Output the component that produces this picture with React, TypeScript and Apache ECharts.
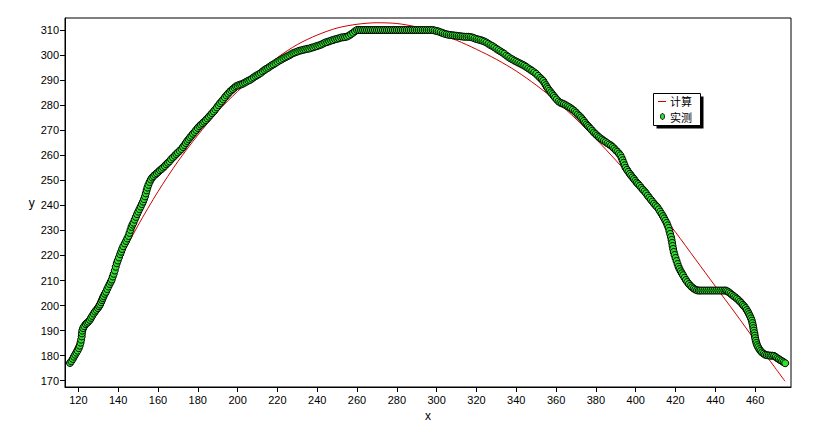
import React, { useEffect, useRef } from "react";
import * as echarts from "echarts";

const seriesNames = ["计算", "实测"];
const xName = "x";
const yName = "y";
const xTicks = [120, 140, 160, 180, 200, 220, 240, 260, 280, 300, 320, 340, 360, 380, 400, 420, 440, 460];
const yTicks = [170, 180, 190, 200, 210, 220, 230, 240, 250, 260, 270, 280, 290, 300, 310];

// 计算 (fitted curve)
const calculated: [number, number][] = [
  [115, 177.5], [120, 186], [130, 202], [140, 217], [150, 232], [160, 245.5], [170, 257.5],
  [180, 268], [190, 277.5], [200, 285.5], [210, 292.5], [220, 299], [230, 304.2], [240, 308],
  [250, 310.8], [260, 312.3], [270, 312.9], [280, 312.6], [290, 311.2], [300, 308.8], [310, 305.9],
  [320, 302.3], [330, 298.3], [340, 293.6], [350, 288], [360, 281.7], [370, 274.5], [380, 266.5],
  [390, 258], [400, 249], [410, 239.5], [420, 229.3], [430, 218.5], [440, 207.7], [450, 197],
  [460, 186], [470, 175.2], [475, 169.8],
];

// 实测 (measured points)
const measured: [number, number][] = [
  [115.8, 177.1], [116.5, 177.8], [117.2, 178.7], [117.8, 179.6], [118.4, 180.4], [119, 181.2], [119.6, 182],
  [120.2, 183], [120.7, 184], [121.1, 185.2], [121.4, 186.4], [121.7, 187.7], [121.8, 188.9], [122, 190],
  [122.4, 191], [123, 191.8], [123.7, 192.6], [124.4, 193.1], [125.1, 193.6], [125.8, 194.3], [126.4, 195.1],
  [127, 195.9], [127.7, 196.8], [128.4, 197.6], [129.1, 198.3], [129.8, 199], [130.4, 199.7], [130.9, 200.4],
  [131.4, 201.3], [131.9, 202.2], [132.3, 203], [132.7, 203.8], [133.3, 204.7], [133.9, 205.5], [134.5, 206.6],
  [135.1, 207.6], [135.7, 208.6], [136.3, 209.5], [136.8, 210.4], [137.3, 211.6], [137.8, 212.7], [138.3, 214],
  [138.8, 215.5], [139.3, 216.9], [139.8, 218], [140.4, 219.2], [141, 220.5], [141.5, 221.5], [142, 222.6],
  [142.6, 223.7], [143.3, 224.8], [144, 225.8], [144.6, 226.8], [145.2, 227.8], [145.7, 229], [146.2, 230.2],
  [146.7, 231.4], [147.2, 232.3], [147.7, 233.1], [148.3, 234.3], [148.9, 235.4], [149.5, 236.5], [150.1, 237.5],
  [150.7, 238.5], [151.3, 239.5], [151.9, 240.5], [152.5, 241.5], [153, 242.5], [153.5, 243.6], [153.9, 244.8],
  [154.3, 246], [154.7, 247.1], [155.2, 248.2], [155.8, 249.3], [156.4, 250.3], [157.1, 251.1], [157.8, 251.7],
  [158.6, 252.3], [159.4, 252.8], [160.2, 253.4], [161, 254], [161.8, 254.5], [162.6, 255.1],
  [163.4, 255.7], [164.2, 256.4], [165, 257], [165.8, 257.6], [166.6, 258.4], [167.5, 259.1], [168.4, 259.8],
  [169.2, 260.5], [170, 261.1], [170.9, 261.8], [171.8, 262.5], [172.6, 263.3], [173.3, 264.1], [174, 264.9],
  [174.7, 265.7], [175.4, 266.4], [176.1, 267.1], [176.8, 267.8], [177.6, 268.6], [178.4, 269.3], [179.2, 270.1],
  [180, 270.9], [180.8, 271.6], [181.6, 272.2], [182.4, 272.8], [183.2, 273.4], [184, 274], [184.8, 274.7],
  [185.6, 275.4], [186.4, 276.1], [187.2, 276.8], [188, 277.5], [188.8, 278.3], [189.6, 279.1], [190.4, 280],
  [191.2, 280.8], [192, 281.5], [192.8, 282.3], [193.6, 283.1], [194.4, 283.9], [195.2, 284.6], [196, 285.3],
  [196.8, 285.9], [197.6, 286.4], [198.4, 287], [199.2, 287.5], [200, 287.8], [200.9, 288.1], [201.8, 288.3],
  [202.7, 288.6], [203.6, 289], [204.5, 289.4], [205.4, 289.8], [206.3, 290.1], [207.2, 290.6], [208.1, 291.1],
  [209, 291.6], [209.9, 292], [210.8, 292.4], [211.7, 292.9], [212.6, 293.5], [213.5, 294], [214.4, 294.5],
  [215.3, 294.9], [216.2, 295.4], [217.1, 295.9], [218, 296.3], [219, 296.8], [220, 297.3], [221, 297.8],
  [222, 298.2], [223, 298.7], [224, 299.1], [225, 299.5], [226, 299.9], [227, 300.4], [228, 300.8], [229, 301.1],
  [230, 301.4], [231, 301.7], [232, 301.9], [233, 302.1], [234, 302.3], [235, 302.5], [236, 302.6], [237, 302.9],
  [238, 303.1], [239, 303.4], [240, 303.6], [241, 303.9], [242, 304.2], [243, 304.6], [244, 305], [245, 305.2],
  [246, 305.5], [247, 305.8], [248, 306], [249, 306.3], [250, 306.5], [251, 306.7], [252, 307], [253, 307.1],
  [254, 307.2], [255, 307.4], [256, 307.8], [257, 308.3], [258, 308.9], [259, 309.5], [260, 310],
  [261, 310], [262, 310], [263, 310], [264, 310], [265, 310], [266, 310], [267, 310], [268, 310], [269, 310],
  [270, 310], [271, 310], [272, 310], [273, 310], [274, 310], [275, 310], [276, 310], [277, 310], [278, 310],
  [279, 310], [280, 310], [281, 310], [282, 310], [283, 310], [284, 310], [285, 310], [286, 310], [287, 310],
  [288, 310], [289, 310], [290, 310], [291, 310], [292, 310], [293, 310], [294, 310], [295, 310], [296, 310],
  [297, 310], [298, 310],
  [299, 309.8], [300, 309.6], [301, 309.4], [302, 309.1], [303, 308.8], [304, 308.5], [305, 308.3], [306, 308.1],
  [307, 308], [308, 307.9], [309, 307.8], [310, 307.7], [311, 307.6], [312, 307.5], [313, 307.4], [314, 307.3],
  [315, 307.3], [316, 307.3], [317, 307.2], [318, 307], [319, 306.7], [320, 306.4], [321, 306.2], [322, 306],
  [323, 305.7], [324, 305.4], [325, 305], [326, 304.5], [327, 304], [328, 303.6], [329, 303.1], [330, 302.5],
  [331, 302], [332, 301.5], [333, 301], [334, 300.5], [335, 299.8], [336, 299.3], [337, 298.7], [338, 298.3],
  [339, 297.8], [340, 297.4], [341, 297], [342, 296.6], [343, 296.2], [344, 295.8], [345, 295.3], [346, 294.7],
  [347, 294.2], [348, 293.7], [349, 293.1], [350, 292.5], [351, 291.7], [352, 290.9],
  [352.8, 290.3], [353.5, 289.7], [354.2, 288.8], [354.8, 288], [355.4, 287.2], [356, 286.5], [356.7, 285.8],
  [357.4, 285.1], [358.1, 284.4], [358.8, 283.7], [359.5, 283], [360.3, 282.3], [361.2, 281.5], [362.1, 281],
  [363, 280.7], [363.9, 280.4], [364.8, 280], [365.7, 279.6], [366.6, 279.2], [367.5, 278.7], [368.4, 278.2],
  [369.3, 277.6], [370.1, 277], [370.9, 276.3], [371.7, 275.7], [372.5, 275.1], [373.2, 274.4], [373.9, 273.7],
  [374.6, 273], [375.3, 272.3], [376, 271.7], [376.7, 271.1], [377.4, 270.5], [378.2, 269.8], [379, 269.1],
  [379.8, 268.5], [380.6, 267.9], [381.4, 267.3], [382.2, 266.8], [383.1, 266.3], [384, 265.8], [384.9, 265.3],
  [385.8, 264.8], [386.7, 264.3], [387.6, 263.9], [388.4, 263.3], [389.2, 262.7], [390, 262], [390.8, 261.4],
  [391.6, 260.7], [392.3, 260], [392.9, 259], [393.4, 258], [393.9, 257], [394.4, 256], [394.9, 255], [395.6, 254.2],
  [396.3, 253.4], [397, 252.6], [397.7, 251.9], [398.4, 251.2], [399.1, 250.5], [399.8, 249.8], [400.5, 249.1],
  [401.2, 248.5], [402, 247.8], [402.8, 247], [403.6, 246.3], [404.4, 245.6], [405.2, 244.8], [406, 243.9],
  [406.8, 243.1], [407.6, 242.3], [408.4, 241.5], [409.2, 240.7], [410, 240], [410.8, 239.3], [411.6, 238.4],
  [412.3, 237.5], [413, 236.6], [413.7, 235.7], [414.3, 234.8], [414.9, 233.9], [415.5, 233], [416, 232],
  [416.5, 231], [416.9, 229.8], [417.3, 228.6], [417.7, 227.4], [418, 226.2], [418.3, 225], [418.5, 223.8],
  [418.8, 222.6], [419.1, 221.4], [419.5, 220.2], [420, 219], [420.5, 217.8], [421, 216.6], [421.5, 215.5],
  [422, 214.6], [422.6, 213.7], [423.2, 212.9], [423.8, 212.1], [424.5, 211.1], [425.2, 210.2], [425.9, 209.4],
  [426.7, 208.6], [427.5, 207.9], [428.3, 207.3], [429.1, 206.8], [429.9, 206.4], [430.8, 206.1], [431.7, 206],
  [432.5, 206], [433.5, 206], [434.5, 206], [435.5, 206], [436.5, 206], [437.5, 206], [438.5, 206], [439.5, 206],
  [440.5, 206], [441.5, 206], [442.5, 206], [443.5, 206], [444.5, 206], [445.3, 206],
  [446, 205.7], [446.8, 205.3], [447.6, 204.8], [448.4, 204.3], [449.2, 203.8], [450, 203.3], [450.8, 202.8],
  [451.6, 202.2], [452.4, 201.6], [453.1, 201], [453.8, 200.3], [454.5, 199.7], [455.2, 199], [455.8, 198.2],
  [456.4, 197.4], [456.9, 196.6], [457.4, 195.8], [457.9, 194.9], [458.3, 194], [458.6, 193], [458.9, 192],
  [459.1, 191], [459.3, 190], [459.6, 189], [459.8, 188], [460, 187], [460.3, 186], [460.6, 185.1], [461, 184.2],
  [461.5, 183.4], [462.1, 182.6], [462.7, 181.9], [463.4, 181.3], [464.2, 180.8], [465, 180.4], [465.9, 180.2],
  [466.8, 180.1], [467.7, 180], [468.6, 180], [469.5, 179.9], [470.3, 179.5], [471.1, 179], [471.9, 178.6],
  [472.7, 178.2], [473.5, 177.8], [474.3, 177.4], [475.1, 177],
];

const FONT = "Arial, 'Liberation Sans', sans-serif";
const CJK = "'Noto Sans CJK SC', sans-serif";
const RED = "#cc0000";
const GREEN = "#2fe02f";

export default function App() {
  const ref = useRef<HTMLDivElement>(null);
  useEffect(() => {
    const chart = echarts.init(ref.current!, null, { renderer: "svg" });
    chart.setOption({
      animation: false,
      backgroundColor: "#fff",
      grid: {
        left: 65,
        right: 23,
        top: 18,
        bottom: 52,
        show: true,
        borderColor: "#000",
        borderWidth: 1,
        backgroundColor: "transparent",
      },
      xAxis: {
        type: "value",
        min: 113.3,
        max: 478,
        name: xName,
        nameLocation: "middle",
        nameGap: 20,
        nameTextStyle: { color: "#000", fontSize: 12, fontFamily: FONT },
        axisLine: { show: true, lineStyle: { color: "#000", width: 1 } },
        axisTick: { show: true, length: 5, lineStyle: { color: "#000" }, customValues: xTicks },
        axisLabel: { color: "#000", fontSize: 11, fontFamily: FONT, margin: 7, customValues: xTicks },
        splitLine: { show: false },
      },
      yAxis: {
        type: "value",
        min: 167.5,
        max: 314.8,
        name: yName,
        nameLocation: "middle",
        nameRotate: 0,
        nameGap: 29,
        nameTextStyle: { color: "#000", fontSize: 12, fontFamily: FONT },
        axisLine: { show: true, lineStyle: { color: "#000", width: 1 } },
        axisTick: { show: true, length: 5, lineStyle: { color: "#000" }, customValues: yTicks },
        axisLabel: { color: "#000", fontSize: 11, fontFamily: FONT, margin: 6, customValues: yTicks },
        splitLine: { show: false },
      },
      series: [
        {
          name: seriesNames[0],
          type: "line",
          data: calculated,
          smooth: 0.3,
          showSymbol: false,
          symbol: "none",
          lineStyle: { color: RED, width: 1 },
          z: 1,
        },
        {
          name: seriesNames[1],
          type: "scatter",
          data: measured,
          symbol: "circle",
          symbolSize: 7,
          itemStyle: { color: GREEN, borderColor: "#000", borderWidth: 1, opacity: 1 },
          z: 2,
        },
      ],
      graphic: [
        { type: "rect", shape: { x: 656.5, y: 96.5, width: 47, height: 32 }, style: { fill: "#000" }, z: 100 },
        {
          type: "rect",
          shape: { x: 653.5, y: 93.5, width: 47, height: 32 },
          style: { fill: "#fff", stroke: "#000", lineWidth: 1 },
          z: 101,
        },
        {
          type: "line",
          shape: { x1: 658, y1: 101.5, x2: 666, y2: 101.5 },
          style: { stroke: RED, lineWidth: 1 },
          z: 102,
        },
        {
          type: "text",
          x: 670,
          y: 101,
          style: {
            text: seriesNames[0],
            fontSize: 11,
            lineHeight: 11,
            fontFamily: CJK,
            fill: "#000",
            verticalAlign: "middle",
          },
          z: 102,
        },
        {
          type: "ellipse",
          shape: { cx: 662.5, cy: 116.5, rx: 2, ry: 3 },
          style: { fill: GREEN, stroke: "#000", lineWidth: 1 },
          z: 102,
        },
        {
          type: "text",
          x: 670,
          y: 117,
          style: {
            text: seriesNames[1],
            fontSize: 11,
            lineHeight: 11,
            fontFamily: CJK,
            fill: "#000",
            verticalAlign: "middle",
          },
          z: 102,
        },
      ],
    });
    return () => chart.dispose();
  }, []);
  return <div ref={ref} style={{ position: "absolute", left: 0, top: 0, width: 814, height: 439 }} />;
}
